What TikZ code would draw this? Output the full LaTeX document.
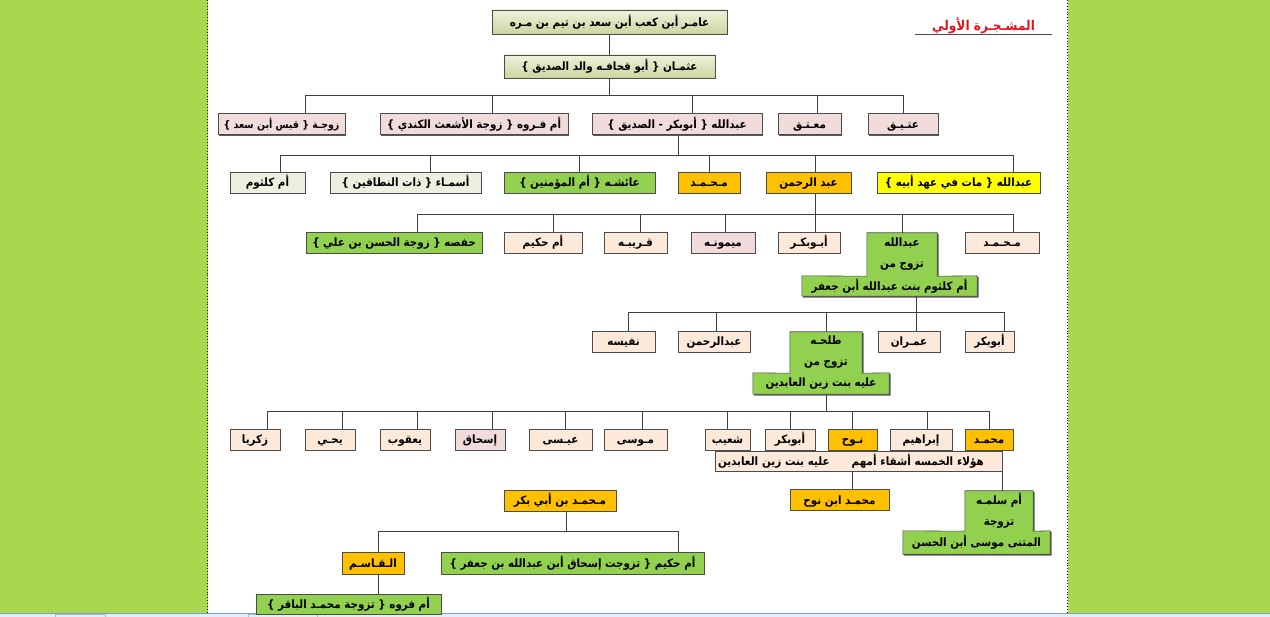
\documentclass[tikz,border=0pt]{standalone}
\usepackage{fontspec}
\newfontfamily\arabicfont[Script=Arabic]{DejaVu Sans Condensed}
\TeXXeTstate=1
\usetikzlibrary{shadows,backgrounds}
\definecolor{pagegreen}{HTML}{A9D84F}
\definecolor{khakitop}{HTML}{EEF2DA}
\definecolor{khakibot}{HTML}{CBD5A0}
\definecolor{rosefill}{HTML}{F2DCDB}
\definecolor{peachfill}{HTML}{FDE9D9}
\definecolor{palegreen}{HTML}{EBF1DE}
\definecolor{leafgreen}{HTML}{92D050}
\definecolor{amber}{HTML}{FFC000}
\definecolor{lemon}{HTML}{FFFF00}
\definecolor{titlered}{HTML}{E3141B}
\definecolor{barblue}{HTML}{E4EEFA}
\definecolor{barline}{HTML}{7B9FD4}
\newcommand{\artxt}[1]{\beginR #1\endR}

\begin{document}
\begin{tikzpicture}[
    x=1pt, y=-1pt,
    every node/.style={font=\arabicfont\bfseries\fontsize{11.5}{13}\selectfont},
    boxshadow/.style={drop shadow={shadow xshift=1.4pt,shadow yshift=-1.4pt,fill=black!65,opacity=1}},
    fambox/.style={
        draw=black!70,
        line width=0.6pt,
        minimum height=21,
        text height=10pt,
        text depth=1pt,
        inner sep=1pt,
        boxshadow,
    },
    rootbox/.style={fambox,top color=khakitop,bottom color=khakibot},
    rosebox/.style={fambox,fill=rosefill},
    peachbox/.style={fambox,fill=peachfill},
    paleox/.style={fambox,fill=palegreen},
    greenbox/.style={fambox,fill=leafgreen},
    amberbox/.style={fambox,fill=amber},
    lemonbox/.style={fambox,fill=lemon},
    crosspart/.style={inner sep=0pt,align=center,font=\arabicfont\bfseries\fontsize{11.5}{21}\selectfont},
    crossbox/.style={fill=leafgreen,draw=black!70,line width=0.6pt,boxshadow},
    link/.style={draw=black!75,line width=0.7pt},
]
\useasboundingbox (0,0) rectangle (1270,617);

% === Page ===
\begin{scope}[on background layer]
    \fill[pagegreen] (0,0) rectangle (1270,613);
    \fill[white] (208,0) rectangle (1068,613);
    \draw[dotted,line width=0.9pt] (207.5,0) -- (207.5,613);
    \draw[dotted,line width=0.9pt] (1067.5,0) -- (1067.5,613);
    \fill[barblue] (0,613) rectangle (1270,617);
    \draw[barline,line width=0.8pt] (0,613) -- (1270,613);
    \draw[barline!70,line width=0.5pt] (55,617) |- (105,614.5) -- (105,617);
    \draw[barline!70,line width=0.5pt] (248,617) |- (317,614.5) -- (317,617);
\end{scope}

% === Title ===
\node[text=titlered,font=\arabicfont\bfseries\fontsize{13.5}{15}\selectfont,
      minimum width=137,minimum height=19,inner sep=0pt] (title) at (983.5,25.5)
    {\artxt{المشـجـرة الأولي}};
\draw[black!70,line width=0.8pt,double=white,double distance=0.9pt]
    (title.south west) -- (title.south east);

% === Roots ===
\node[rootbox,minimum width=235,minimum height=24] (root) at (609.5,22)
    {\artxt{عامـر أبن كعب أبن سعد بن تيم بن مـره}};
\node[rootbox,minimum width=211,minimum height=23] (othman) at (609.5,66.5)
    {\artxt{عثمـان \{ أبو قحافـه والد الصديق \}}};

% === Row 2 ===
\node[rosebox,minimum width=127,font=\arabicfont\bfseries\fontsize{10.5}{12}\selectfont] (zawja) at (281.5,124)
    {\artxt{زوجـة \{ قيس أبن سعد \}}};
\node[rosebox,minimum width=188] (umfarwa) at (474,124) {\artxt{أم فـروه \{ زوجة الأشعث الكندي \}}};
\node[rosebox,minimum width=170] (siddiq) at (677,124) {\artxt{عبدالله \{ أبوبكر - الصديق \}}};
\node[rosebox,minimum width=63] (muataq) at (809.5,124) {\artxt{معـتـق}};
\node[rosebox,minimum width=70] (ateeq) at (903,124) {\artxt{عتـيـق}};

% === Row 3 ===
\node[paleox,minimum width=75] (umkulthum) at (267.5,182.5) {\artxt{أم كلثوم}};
\node[paleox,minimum width=151] (asma) at (405.5,182.5) {\artxt{أسمـاء \{ ذات النطاقين \}}};
\node[greenbox,minimum width=151] (aisha) at (579.5,182.5) {\artxt{عائشـه \{ أم المؤمنين \}}};
\node[amberbox,minimum width=62] (muhammadA) at (709,182.5) {\artxt{مـحـمـد}};
\node[amberbox,minimum width=85] (abdrahman) at (808.5,182.5) {\artxt{عبد الرحمن}};
\node[lemonbox,minimum width=163] (abdallahB) at (958.5,182.5) {\artxt{عبدالله \{ مات في عهد أبيه \}}};

% === Row 4 ===
\node[greenbox,minimum width=176] (hafsa) at (394,242.5) {\artxt{حفصه \{ زوجة الحسن بن علي \}}};
\node[peachbox,minimum width=78] (umhakim) at (543,242.5) {\artxt{أم حكيم}};
\node[peachbox,minimum width=63] (qaribah) at (635.5,242.5) {\artxt{قـريبـه}};
\node[rosebox,minimum width=64] (maymuna) at (723,242.5) {\artxt{ميمونـه}};
\node[peachbox,minimum width=62] (abubakrB) at (809,242.5) {\artxt{أبـوبكـر}};
\node[peachbox,minimum width=74] (muhammadB) at (1002,242.5) {\artxt{مـحـمـد}};
\node[crosspart,minimum width=70,minimum height=43] (abdtop) at (902,254.5)
    {\artxt{عبدالله}\\\artxt{تزوج من}};
\node[crosspart,minimum width=175,minimum height=20] (abdbot) at (889.5,286)
    {\artxt{أم كلثوم بنت عبدالله أبن جعفر}};

% === Row 5 ===
\node[peachbox,minimum width=63] (nafisa) at (623.5,341.5) {\artxt{نفيسه}};
\node[peachbox,minimum width=72] (abdrahmanB) at (714,341.5) {\artxt{عبدالرحمن}};
\node[peachbox,minimum width=62] (imran) at (909,341.5) {\artxt{عمـران}};
\node[peachbox,minimum width=49] (abubakrC) at (989.5,341.5) {\artxt{أبوبكر}};
\node[crosspart,minimum width=72,minimum height=41] (talhatop) at (826,352.5)
    {\artxt{طلحـه}\\\artxt{تزوج من}};
\node[crosspart,minimum width=136,minimum height=21] (talhabot) at (821,383.5)
    {\artxt{عليه بنت زين العابدين}};

% === Row 6 ===
\node[peachbox,minimum width=287,minimum height=20,text width=281,align=left] (ashiqqa) at (858.5,461)
    {\artxt{هؤلاء الخمسه أشقاء أمهم\hspace{22pt}عليه بنت زين العابدين}};
\node[peachbox,minimum width=50] (zakariya) at (255,439.5) {\artxt{زكريا}};
\node[peachbox,minimum width=50] (yahya) at (330,439.5) {\artxt{يحـي}};
\node[peachbox,minimum width=50] (yaqub) at (405,439.5) {\artxt{يعقوب}};
\node[rosebox,minimum width=50] (ishaq) at (480,439.5) {\artxt{إسحاق}};
\node[peachbox,minimum width=63] (isa) at (560.5,439.5) {\artxt{عيـسى}};
\node[peachbox,minimum width=63] (musa) at (635.5,439.5) {\artxt{مـوسى}};
\node[peachbox,minimum width=45] (shuayb) at (727.5,439.5) {\artxt{شعيب}};
\node[peachbox,minimum width=50] (abubakrD) at (790,439.5) {\artxt{أبوبكر}};
\node[amberbox,minimum width=49] (nuh) at (852.5,439.5) {\artxt{نـوح}};
\node[peachbox,minimum width=62] (ibrahim) at (921,439.5) {\artxt{إبراهيم}};
\node[amberbox,minimum width=48] (muhammadC) at (989,439.5) {\artxt{محمـد}};

% === Row 7 ===
\node[amberbox,minimum width=99] (ibnnuh) at (839.5,499.5) {\artxt{محمـد ابن نوح}};
\node[crosspart,minimum width=68,minimum height=40] (umsalamatop) at (999,511)
    {\artxt{أم سلمـه}\\\artxt{تزوجة}};
\node[crosspart,minimum width=147,minimum height=23] (umsalamabot) at (976.5,542.5)
    {\artxt{المتنى موسى أبن الحسن}};

% === Muhammad ibn Abi Bakr ===
\node[amberbox,minimum width=112] (ibnabibakr) at (560,500.5) {\artxt{مـحمـد بن أبي بكر}};
\node[amberbox,minimum width=62,minimum height=22] (qasim) at (373,563) {\artxt{الـقـاسـم}};
\node[greenbox,minimum width=263,minimum height=22] (umhakimB) at (572.5,563)
    {\artxt{أم حكيم \{ تزوجت إسحاق أبن عبدالله بن جعفر \}}};
\node[greenbox,minimum width=185,minimum height=20] (umfarwaB) at (348.5,604)
    {\artxt{أم فروه \{ تزوجة محمـد الباقر \}}};

% === Cross outlines ===
\begin{scope}[on background layer]
    \draw[crossbox] (abdtop.north west) -- (abdtop.north east) -- (abdtop.south east)
        -- (abdbot.north east) -- (abdbot.south east) -- (abdbot.south west)
        -- (abdbot.north west) -- (abdtop.south west) -- cycle;
    \draw[crossbox] (talhatop.north west) -- (talhatop.north east) -- (talhatop.south east)
        -- (talhabot.north east) -- (talhabot.south east) -- (talhabot.south west)
        -- (talhabot.north west) -- (talhatop.south west) -- cycle;
    \draw[crossbox] (umsalamatop.north west) -- (umsalamatop.north east) -- (umsalamatop.south east)
        -- (umsalamabot.north east) -- (umsalamabot.south east) -- (umsalamabot.south west)
        -- (umsalamabot.north west) -- (umsalamatop.south west) -- cycle;
\end{scope}

% === Buses ===
\coordinate (bus1) at (609.5,95);
\coordinate (bus2) at (678,155);
\coordinate (bus3) at (815,214);
\coordinate (bus4) at (916,312);
\coordinate (bus5) at (826,411);
\coordinate (bus6) at (566,531);

% === Connectors ===
\draw[link] (root) -- (othman);
\draw[link] (othman.south) -- (bus1);
\foreach \c/\dx in {zawja/23.5,umfarwa/18,siddiq/15,muataq/7.5,ateeq/0}
    \draw[link] ([xshift=\dx]\c.north) |- (bus1);

\draw[link] (siddiq.south -| bus2) -- (bus2);
\foreach \c/\dx in {umkulthum/12.5,asma/24.5,aisha/0,muhammadA/0,abdrahman/6.5,abdallahB/54.5}
    \draw[link] ([xshift=\dx]\c.north) |- (bus2);

\draw[link] (abdrahman.south -| bus3) -- (bus3);
\foreach \c/\dx in {hafsa/23,umhakim/10,qaribah/4.5,maymuna/2,abubakrB/6,abdtop/0,muhammadB/11}
    \draw[link] ([xshift=\dx]\c.north) |- (bus3);

\draw[link] (abdbot.south -| bus4) -- (bus4);
\foreach \c/\dx in {nafisa/4.5,abdrahmanB/2,talhatop/0,imran/7,abubakrC/14.5}
    \draw[link] ([xshift=\dx]\c.north) |- (bus4);

\draw[link] (talhabot.south -| bus5) -- (bus5);
\foreach \c/\dx in {zakariya/12,yahya/12,yaqub/12,ishaq/12,isa/4.5,musa/6.5,shuayb/0,abubakrD/0,nuh/0,ibrahim/6,muhammadC/0}
    \draw[link] ([xshift=\dx]\c.north) |- (bus5);

\draw[link] (ashiqqa.south -| nuh.south) -- (ibnnuh.north -| nuh.south);
\draw[link] (ashiqqa.south east) -- (ashiqqa.south east |- umsalamatop.north);

\draw[link] (ibnabibakr.south -| bus6) -- (bus6);
\foreach \c/\dx in {qasim/5,umhakimB/105.5}
    \draw[link] ([xshift=\dx]\c.north) |- (bus6);
\draw[link] ([xshift=5]qasim.south) -- ([xshift=5]qasim.south |- umfarwaB.north);

\end{tikzpicture}
\end{document}
